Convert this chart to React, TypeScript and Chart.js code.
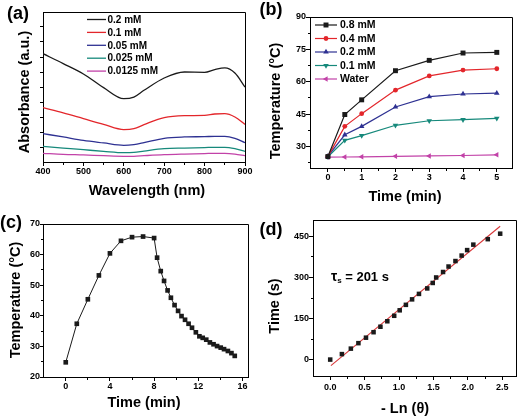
import React, { useEffect, useRef } from "react";
import { Chart, registerables } from "chart.js";

Chart.register(...registerables);

const FONT = "'Liberation Sans', Arial, Helvetica, sans-serif";
const bold = (s: number) => `bold ${s}px ${FONT}`;

// ---------- (a) absorbance ----------
const wavelengths = [400, 450, 500, 550, 600, 625, 650, 700, 750, 800, 825, 850, 875, 900];
const abs0200 = [0.722, 0.656, 0.587, 0.496, 0.422, 0.433, 0.478, 0.56, 0.6, 0.598, 0.616, 0.627, 0.593, 0.5];
const abs0100 = [0.362, 0.327, 0.289, 0.251, 0.216, 0.222, 0.249, 0.296, 0.309, 0.311, 0.32, 0.322, 0.3, 0.251];
const abs0050 = [0.189, 0.167, 0.144, 0.127, 0.111, 0.116, 0.129, 0.158, 0.167, 0.169, 0.171, 0.171, 0.158, 0.129];
const abs0025 = [0.104, 0.093, 0.082, 0.071, 0.062, 0.064, 0.073, 0.089, 0.093, 0.096, 0.098, 0.098, 0.089, 0.071];
const abs00125 = [0.058, 0.051, 0.047, 0.042, 0.038, 0.038, 0.042, 0.049, 0.053, 0.056, 0.058, 0.058, 0.053, 0.042];
const absLabels = ["0.2 mM", "0.1 mM", "0.05 mM", "0.025 mM", "0.0125 mM"];
const wavelengthTicks = [400, 500, 600, 700, 800, 900];
const wavelengthMinor = [450, 550, 650, 750, 850];
const absTicks = [0.1, 0.2, 0.3, 0.4, 0.5, 0.6, 0.7, 0.8, 0.9];

// ---------- (b) heating curves ----------
const heatTime = [0, 0.5, 1, 2, 3, 4, 5];
const temp08 = [25.3, 44.8, 51.6, 65.1, 69.9, 73.3, 73.6];
const temp04 = [25.4, 39.3, 45.2, 56.1, 62.7, 65.4, 66.0];
const temp02 = [25.5, 35.4, 39.3, 48.3, 53.1, 54.3, 54.7];
const temp01 = [25.2, 32.8, 35.0, 39.8, 41.9, 42.4, 43.0];
const tempWater = [25.0, 25.1, 25.2, 25.4, 25.6, 25.8, 26.1];
const heatLabels = ["0.8 mM", "0.4 mM", "0.2 mM", "0.1 mM", "Water"];
const heatTimeTicks = [0, 1, 2, 3, 4, 5];
const heatTimeMinor = [0.5, 1.5, 2.5, 3.5, 4.5];
const heatTempTicks = [30, 45, 60, 75, 90];
const heatTempMinor = [22.5, 37.5, 52.5, 67.5, 82.5];

// ---------- (c) heating / cooling cycle ----------
const cycleTime = [
  0, 1, 2, 3, 4, 5, 6, 7, 8,
  8.27, 8.6, 8.9, 9.22, 9.52, 9.85, 10.17, 10.48, 10.8, 11.12, 11.43, 11.78,
  12.1, 12.4, 12.72, 13.05, 13.38, 13.7, 14.03, 14.33, 14.68, 15.0, 15.3,
];
const cycleTemp = [
  24.8, 37.4, 45.4, 53.2, 60.4, 64.5, 65.7, 65.9, 65.4,
  59.0, 54.6, 51.4, 48.3, 45.9, 43.5, 41.6, 39.9, 38.7, 37.4, 36.1, 34.6,
  33.3, 32.8, 32.2, 31.3, 30.7, 30.1, 29.6, 29.1, 28.5, 27.8, 26.9,
];
const cycleTimeTicks = [0, 4, 8, 12, 16];
const cycleTimeMinor = [2, 6, 10, 14];
const cycleTempTicks = [20, 30, 40, 50, 60, 70];
const cycleTempMinor = [25, 35, 45, 55, 65];

// ---------- (d) time constant ----------
const lnTheta = [0, 0.17, 0.3, 0.41, 0.52, 0.63, 0.73, 0.83, 0.93, 1.01, 1.1, 1.19, 1.29, 1.41, 1.49, 1.54, 1.64, 1.72, 1.82, 1.91, 1.99, 2.08, 2.29, 2.47];
const coolSeconds = [0, 20, 40, 60, 80, 100, 120, 140, 160, 180, 200, 220, 240, 260, 280, 300, 320, 340, 360, 380, 400, 420, 440, 460];
const fitX = [0.01, 2.47];
const fitY = [-22, 487];
const lnTicks = [0, 0.5, 1, 1.5, 2, 2.5];
const lnMinor = [0.25, 0.75, 1.25, 1.75, 2.25];
const secTicks = [0, 150, 300, 450];
const secMinor = [75, 225, 375];
const tauValueText = "= 201 s";

const BLACK = "#1a1a1a";
const RED = "#e3262b";
const BLUE = "#2e3192";
const TEAL = "#16897b";
const MAGENTA = "#c242a8";

const pts = (xs: number[], ys: number[]) => xs.map((x, i) => ({ x, y: ys[i] }));

type LegendOpts = { x: number; y: number; dy: number; len: number; gap: number; size: number; markers: boolean };
type PanelOpts = {
  label: string;
  labelPos: [number, number];
  xTitle: string;
  xTitlePos: [number, number];
  yTitle: string;
  yTitlePos: [number, number];
  xMinor: number[];
  yMinor: number[];
  legend?: LegendOpts;
  tau?: [number, number];
};

function alignPx(v: number) {
  return Math.round(v - 0.5) + 0.5;
}

function drawMarker(ctx: CanvasRenderingContext2D, style: string, rotation: number, x: number, y: number, r: number, color: string) {
  ctx.save();
  ctx.fillStyle = color;
  ctx.beginPath();
  if (style === "rect") {
    const s = r * Math.SQRT1_2;
    ctx.rect(x - s, y - s, 2 * s, 2 * s);
  } else if (style === "circle") {
    ctx.arc(x, y, r, 0, Math.PI * 2);
  } else if (style === "triangle") {
    const rad = (rotation * Math.PI) / 180;
    for (let k = 0; k < 3; k++) {
      const a = rad + (k * 2 * Math.PI) / 3;
      const px = x + Math.sin(a) * r;
      const py = y - Math.cos(a) * r;
      if (k === 0) ctx.moveTo(px, py);
      else ctx.lineTo(px, py);
    }
    ctx.closePath();
  }
  ctx.fill();
  ctx.restore();
}

const panelPlugin = {
  id: "panel",
  afterDraw(chart: any, _args: any, opts: PanelOpts) {
    const { ctx, chartArea: a } = chart;
    const xs = chart.scales.x;
    const ys = chart.scales.y;
    ctx.save();
    ctx.strokeStyle = "#000";
    ctx.lineWidth = 1;
    // frame (top & right)
    const L = alignPx(a.left), R = alignPx(a.right), T = alignPx(a.top), B = alignPx(a.bottom);
    ctx.beginPath();
    ctx.moveTo(L, T);
    ctx.lineTo(R, T);
    ctx.lineTo(R, B);
    ctx.stroke();
    // minor ticks
    ctx.beginPath();
    for (const v of opts.xMinor) {
      const px = alignPx(xs.getPixelForValue(v));
      ctx.moveTo(px, B);
      ctx.lineTo(px, B + 2.5);
    }
    for (const v of opts.yMinor) {
      const py = alignPx(ys.getPixelForValue(v));
      ctx.moveTo(L, py);
      ctx.lineTo(L - 2.5, py);
    }
    ctx.stroke();

    ctx.fillStyle = "#000";
    ctx.textAlign = "center";
    ctx.textBaseline = "middle";
    // panel label
    ctx.font = bold(18);
    ctx.fillText(opts.label, opts.labelPos[0], opts.labelPos[1]);
    // axis titles
    ctx.font = bold(14.5);
    ctx.fillText(opts.xTitle, opts.xTitlePos[0], opts.xTitlePos[1]);
    ctx.save();
    ctx.translate(opts.yTitlePos[0], opts.yTitlePos[1]);
    ctx.rotate(-Math.PI / 2);
    ctx.fillText(opts.yTitle, 0, 0);
    ctx.restore();

    // legend
    const lg = opts.legend;
    if (lg) {
      chart.data.datasets.forEach((ds: any, i: number) => {
        const y = lg.y + i * lg.dy;
        ctx.save();
        ctx.strokeStyle = ds.borderColor;
        ctx.lineWidth = ds.borderWidth || 1;
        ctx.beginPath();
        ctx.moveTo(lg.x, y);
        ctx.lineTo(lg.x + lg.len, y);
        ctx.stroke();
        ctx.restore();
        if (lg.markers) {
          drawMarker(ctx, ds.pointStyle, ds.pointRotation || 0, lg.x + lg.len / 2, y, ds.pointRadius, ds.borderColor);
        }
        ctx.font = bold(lg.size);
        ctx.textAlign = "left";
        ctx.fillStyle = "#000";
        ctx.fillText(ds.label, lg.x + lg.len + lg.gap, y + 0.5);
      });
    }

    // tau annotation
    if (opts.tau) {
      const [tx, ty] = opts.tau;
      ctx.textAlign = "left";
      ctx.font = bold(14);
      ctx.fillText("\u03C4", tx, ty);
      const w1 = ctx.measureText("\u03C4").width;
      ctx.font = bold(8);
      ctx.fillText("s", tx + w1, ty + 4);
      const w2 = ctx.measureText("s").width;
      ctx.font = bold(13);
      ctx.fillText(tauValueText, tx + w1 + w2 + 3.5, ty);
    }
    ctx.restore();
  },
};

function linScale(
  axis: "x" | "y",
  min: number,
  max: number,
  ticks: number[],
  size: number,
  showLabels = true,
  fmt?: (v: number) => string,
  pad = 0,
  tickLen = 4
) {
  const tickOpts: any = {
    display: showLabels,
    color: "#000",
    font: { family: FONT, size: 9, weight: "bold" },
    padding: pad,
    maxRotation: 0,
    autoSkip: false,
  };
  if (fmt) tickOpts.callback = (v: any) => fmt(Number(v));
  return {
    type: "linear",
    position: axis === "x" ? "bottom" : "left",
    min,
    max,
    afterBuildTicks: (s: any) => {
      s.ticks = ticks.map((v) => ({ value: v }));
    },
    afterFit: (s: any) => {
      if (axis === "x") s.height = size;
      else s.width = size;
      s.paddingTop = 0;
      s.paddingBottom = 0;
      s.paddingLeft = 0;
      s.paddingRight = 0;
    },
    grid: { drawOnChartArea: false, drawTicks: true, tickLength: tickLen, color: "#000", lineWidth: 1 },
    border: { display: true, color: "#000", width: 1 },
    ticks: tickOpts,
  };
}

function baseOptions(padTop: number, padRight: number, scales: any, panel: PanelOpts) {
  return {
    animation: false,
    responsive: false,
    maintainAspectRatio: false,
    events: [],
    layout: { padding: { top: padTop, right: padRight, left: 0, bottom: 0 } },
    scales,
    plugins: { legend: { display: false }, tooltip: { enabled: false }, panel },
  };
}

function configA(): any {
  const series = [abs0200, abs0100, abs0050, abs0025, abs00125];
  const colors = [BLACK, RED, BLUE, TEAL, MAGENTA];
  return {
    type: "scatter",
    data: {
      datasets: series.map((s, i) => ({
        label: absLabels[i],
        data: pts(wavelengths, s),
        showLine: true,
        borderColor: colors[i],
        backgroundColor: colors[i],
        borderWidth: 1.3,
        pointRadius: 0,
        cubicInterpolationMode: "monotone",
      })),
    },
    options: baseOptions(
      12,
      15,
      {
        x: linScale("x", 400, 900, wavelengthTicks, 43),
        y: linScale("y", 0, 1, absTicks, 43, false, undefined, 0, 3),
      },
      {
        label: "(a)",
        labelPos: [18, 14],
        xTitle: "Wavelength (nm)",
        xTitlePos: [147, 191],
        yTitle: "Absorbance (a.u.)",
        yTitlePos: [25, 92],
        xMinor: wavelengthMinor,
        yMinor: [],
        legend: { x: 87, y: 19.5, dy: 12.9, len: 19, gap: 1.5, size: 10, markers: false },
      }
    ),
    plugins: [panelPlugin],
  };
}

function configB(): any {
  const series = [temp08, temp04, temp02, temp01, tempWater];
  const colors = [BLACK, RED, BLUE, TEAL, MAGENTA];
  const styles = ["rect", "circle", "triangle", "triangle", "triangle"];
  const rots = [0, 0, 0, 180, 270];
  const radii = [3.5, 2.4, 3.2, 3.2, 3.2];
  return {
    type: "scatter",
    data: {
      datasets: series.map((s, i) => ({
        label: heatLabels[i],
        data: pts(heatTime, s),
        showLine: true,
        borderColor: colors[i],
        backgroundColor: colors[i],
        pointBackgroundColor: colors[i],
        pointBorderColor: colors[i],
        pointBorderWidth: 0,
        borderWidth: 1.2,
        pointStyle: styles[i],
        pointRotation: rots[i],
        pointRadius: radii[i],
      })),
    },
    options: baseOptions(
      17,
      8,
      {
        x: linScale("x", -0.53, 5.45, heatTimeTicks, 37),
        y: linScale("y", 20, 90, heatTempTicks, 50),
      },
      {
        label: "(b)",
        labelPos: [11, 10],
        xTitle: "Time (min)",
        xTitlePos: [145, 197],
        yTitle: "Temperature (\u00B0C)",
        yTitlePos: [16, 101],
        xMinor: heatTimeMinor,
        yMinor: heatTempMinor,
        legend: { x: 55, y: 25, dy: 13.5, len: 22, gap: 3, size: 10.5, markers: true },
      }
    ),
    plugins: [panelPlugin],
  };
}

function configC(): any {
  return {
    type: "scatter",
    data: {
      datasets: [
        {
          label: "cycle",
          data: pts(cycleTime, cycleTemp),
          showLine: true,
          borderColor: BLACK,
          backgroundColor: BLACK,
          borderWidth: 1,
          pointStyle: "rect",
          pointRadius: 3.3,
          pointBorderWidth: 0,
        },
      ],
    },
    options: baseOptions(
      19,
      12,
      {
        x: linScale("x", -2.06, 16.5, cycleTimeTicks, 40),
        y: linScale("y", 20, 70, cycleTempTicks, 43, true, undefined, 0, 3),
      },
      {
        label: "(c)",
        labelPos: [11, 18],
        xTitle: "Time (min)",
        xTitlePos: [144, 198],
        yTitle: "Temperature (\u00B0C)",
        yTitlePos: [16, 95],
        xMinor: cycleTimeMinor,
        yMinor: cycleTempMinor,
      }
    ),
    plugins: [panelPlugin],
  };
}

function configD(): any {
  return {
    type: "scatter",
    data: {
      datasets: [
        {
          label: "data",
          data: pts(lnTheta, coolSeconds),
          showLine: false,
          borderColor: BLACK,
          backgroundColor: BLACK,
          pointStyle: "rect",
          pointRadius: 3.2,
          pointBorderWidth: 0,
        },
        {
          label: "fit",
          data: pts(fitX, fitY),
          showLine: true,
          borderColor: "#d9383a",
          backgroundColor: "#d9383a",
          borderWidth: 1.1,
          pointRadius: 0,
        },
      ],
    },
    options: baseOptions(
      15,
      3,
      {
        x: linScale("x", -0.25, 2.7, lnTicks, 41, true, (v) => v.toFixed(1), 2),
        y: linScale("y", -60, 510, secTicks, 53),
      },
      {
        label: "(d)",
        labelPos: [11, 25],
        xTitle: "- Ln (\u03B8)",
        xTitlePos: [145, 204],
        yTitle: "Time (s)",
        yTitlePos: [15, 101],
        xMinor: lnMinor,
        yMinor: secMinor,
        tau: [71, 72],
      }
    ),
    plugins: [panelPlugin],
  };
}

function Panel(props: { left: number; top: number; width: number; height: number; make: () => any }) {
  const ref = useRef<HTMLCanvasElement>(null);
  useEffect(() => {
    const chart = new Chart(ref.current as HTMLCanvasElement, props.make());
    return () => chart.destroy();
  }, []);
  return (
    <canvas
      ref={ref}
      width={props.width}
      height={props.height}
      style={{ position: "absolute", left: props.left, top: props.top, width: props.width, height: props.height }}
    />
  );
}

export default function App() {
  return (
    <div style={{ position: "absolute", left: 0, top: 0, width: 520, height: 417, background: "#fff", overflow: "hidden" }}>
      <Panel left={0} top={0} width={260} height={205} make={configA} />
      <Panel left={260} top={0} width={260} height={205} make={configB} />
      <Panel left={0} top={205} width={260} height={212} make={configC} />
      <Panel left={260} top={205} width={260} height={212} make={configD} />
    </div>
  );
}
